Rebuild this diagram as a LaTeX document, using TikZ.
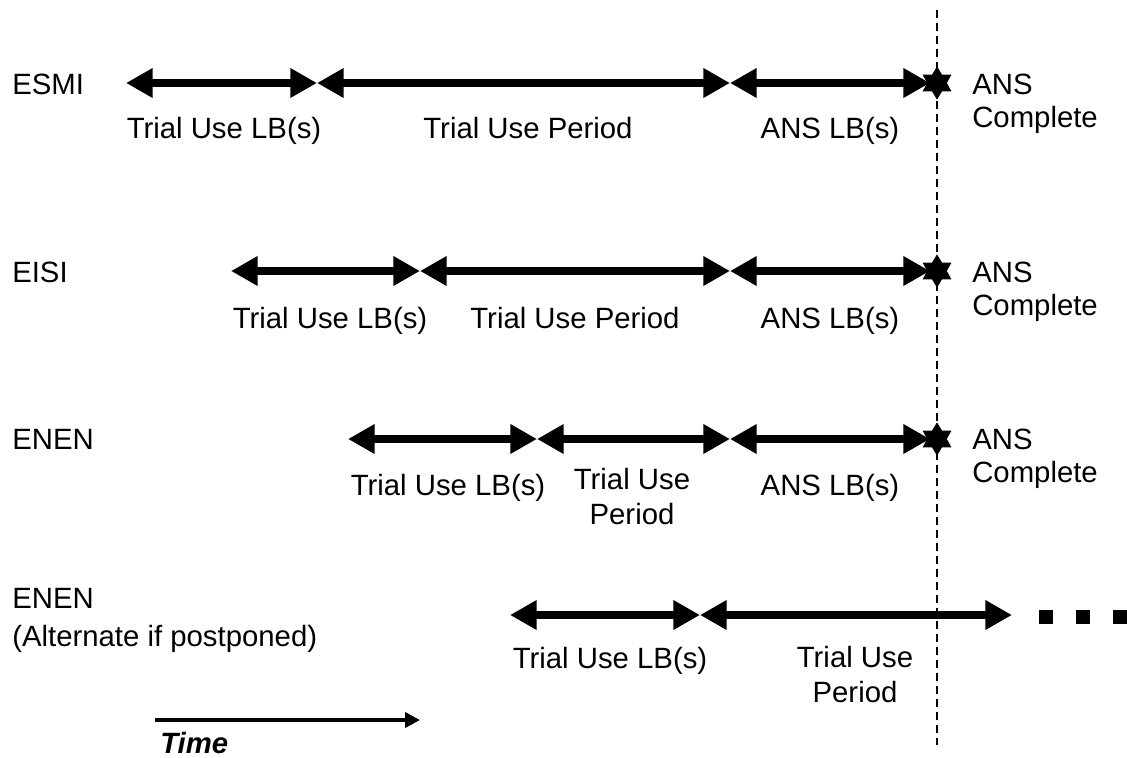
\documentclass[tikz,border=0pt]{standalone}
\usepackage{fontspec}
\setmainfont{Liberation Sans}
\usetikzlibrary{arrows.meta, shapes.geometric}

\tikzset{
  head/.tip={Triangle[length=20pt,width=21pt]},
  span/.style={line width=6pt, head-head},
  lbl/.style={font=\fontsize{22}{26}\selectfont, inner sep=0pt, anchor=base},
  rowname/.style={lbl, anchor=base west},
  done/.style={star, star points=6, star point ratio=1.7, fill=black, inner sep=0pt, minimum size=25pt},
  dot/.style={fill=black, inner sep=0pt, minimum size=10.5pt}
}

\begin{document}
\begin{tikzpicture}[x=0.75pt,y=-0.75pt]
    \useasboundingbox (0,0) rectangle (1127,757);

    % The completion line
    \coordinate (cutTop) at (937,10);
    \coordinate (cutBot) at (937,745);
    \draw[line width=1.5pt, dash pattern=on 6pt off 3.75pt] (cutTop) -- (cutBot);

    % ESMI
    \node[rowname] (esmi) at (12,94) {ESMI};
    \coordinate (a0) at (126,83);
    \coordinate (a1) at (317,83);
    \coordinate (a2) at (730,83);
    \coordinate (a3) at (930,83);
    \draw[span] (a0) -- (a1);
    \draw[span] (a1) -- (a2);
    \draw[span] (a2) -- (a3);
    \node[done] (aStar) at (937,83) {};
    \node[lbl] (aLB) at (224,138) {Trial Use LB(s)};
    \node[lbl] (aPer) at (528,138) {Trial Use Period};
    \node[lbl] (aANS) at (830,138) {ANS LB(s)};
    \node[rowname] (aDone) at (972,94) {ANS};
    \node[rowname] (aComp) at (972,127) {Complete};

    % EISI
    \node[rowname] (eisi) at (12,282) {EISI};
    \coordinate (b0) at (231,271);
    \coordinate (b1) at (420,271);
    \coordinate (b2) at (730,271);
    \coordinate (b3) at (930,271);
    \draw[span] (b0) -- (b1);
    \draw[span] (b1) -- (b2);
    \draw[span] (b2) -- (b3);
    \node[done] (bStar) at (937,271) {};
    \node[lbl] (bLB) at (330,328) {Trial Use LB(s)};
    \node[lbl] (bPer) at (575,328) {Trial Use Period};
    \node[lbl] (bANS) at (830,328) {ANS LB(s)};
    \node[rowname] (bDone) at (972,282) {ANS};
    \node[rowname] (bComp) at (972,315) {Complete};

    % ENEN
    \node[rowname] (enen) at (12,449) {ENEN};
    \coordinate (c0) at (348,439);
    \coordinate (c1) at (537,439);
    \coordinate (c2) at (730,439);
    \coordinate (c3) at (930,439);
    \draw[span] (c0) -- (c1);
    \draw[span] (c1) -- (c2);
    \draw[span] (c2) -- (c3);
    \node[done] (cStar) at (937,439) {};
    \node[lbl] (cLB) at (448,495) {Trial Use LB(s)};
    \node[lbl] (cUse) at (632,489) {Trial Use};
    \node[lbl] (cPer) at (632,524) {Period};
    \node[lbl] (cANS) at (830,495) {ANS LB(s)};
    \node[rowname] (cDone) at (972,449) {ANS};
    \node[rowname] (cComp) at (972,482) {Complete};

    % ENEN, alternate
    \node[rowname] (alt) at (12,608) {ENEN};
    \node[rowname] (altNote) at (12,646) {(Alternate if postponed)};
    \coordinate (d0) at (510,615);
    \coordinate (d1) at (700,615);
    \coordinate (d2) at (1012,615);
    \draw[span] (d0) -- (d1);
    \draw[span] (d1) -- (d2);
    \node[dot] (dotA) at (1046,617) {};
    \node[dot] (dotB) at (1083,617) {};
    \node[dot] (dotC) at (1120,617) {};
    \node[lbl] (dLB) at (610,668) {Trial Use LB(s)};
    \node[lbl] (dUse) at (855,667) {Trial Use};
    \node[lbl] (dPer) at (855,702) {Period};

    % Time axis
    \coordinate (t0) at (155,720);
    \coordinate (t1) at (420,720);
    \draw[line width=3.5pt, -{Triangle[length=11.25pt,width=11.25pt]}] (t0) -- (t1);
    \node[rowname, font=\fontsize{22}{26}\selectfont\bfseries\itshape] (time) at (160,753) {Time};
\end{tikzpicture}
\end{document}
